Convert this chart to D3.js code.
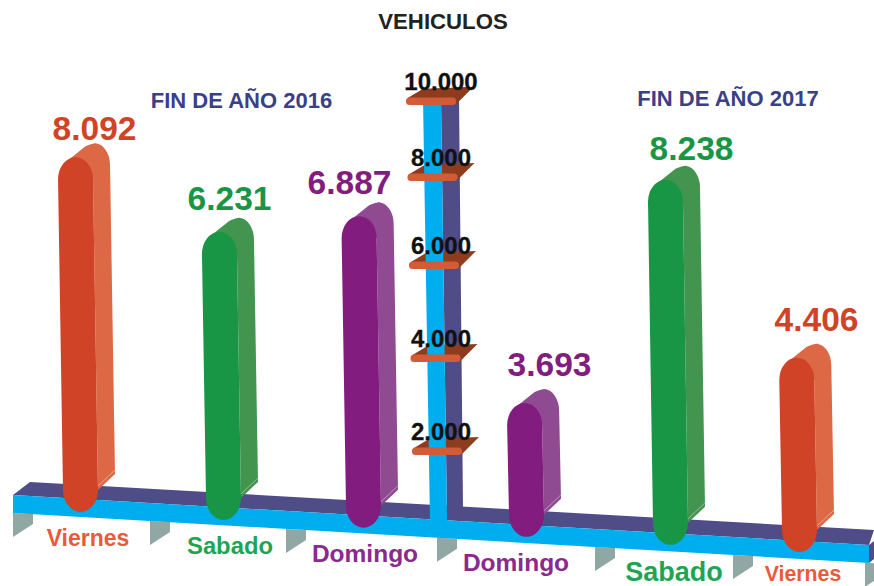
<!DOCTYPE html>
<html>
<head>
<meta charset="utf-8">
<script src="https://cdnjs.cloudflare.com/ajax/libs/d3/7.8.5/d3.min.js"></script>
<style>
  html, body { margin: 0; padding: 0; background: #fff; }
  svg { display: block; }
  text { font-family: "Liberation Sans", Arial, sans-serif; font-weight: bold; }
</style>
</head>
<body>
<div id="chart"></div>
<script>
// Data
var years = ["2016", "2016", "2016", "2017", "2017", "2017"];
var days = ["Viernes", "Sabado", "Domingo", "Domingo", "Sabado", "Viernes"];
var vehicles = [8092, 6231, 6887, 3693, 8238, 4406];
var tickValues = [2000, 4000, 6000, 8000, 10000];
var titles = ["FIN DE AÑO 2016", "FIN DE AÑO 2017"];

var svgWidth = 874;
var svgHeight = 586;

var svg = d3.select("#chart").append("svg")
  .attr("width", svgWidth)
  .attr("height", svgHeight);

// Hand placed columns, so the x scale is ordinal rather than evenly spaced
var keys = days.map((d, i) => years[i] + "-" + d);
var xScale = d3.scaleOrdinal()
  .domain(keys)
  .range([80.5, 223.5, 363.5, 526.5, 670.5, 799.5]);

// the floor beam runs downhill, column feet follow it
var footScale = d3.scaleLinear().domain([80.5, 799.5]).range([512, 552]);
var beamScale = d3.scaleLinear().domain([13, 869]).range([495, 545]);

// the artwork is not drawn to one scale, these follow its proportions
var heightScale = d3.scaleLinear()
  .domain([0, 3700, 4400, 6200, 8100, 8250])
  .range([0, 134, 194, 287, 355, 366]);
var axisScale = d3.scaleLinear()
  .domain(tickValues)
  .range([451, 358, 265, 177, 101]);
var shelfX = d3.scaleLinear().domain([2000, 10000]).range([412, 406]);

var dayColor = d3.scaleOrdinal()
  .domain(["Viernes", "Sabado", "Domingo"])
  .range(["#d04326", "#189646", "#821c7e"]);
var sideColor = d3.scaleOrdinal()
  .domain(["Viernes", "Sabado", "Domingo"])
  .range(["#dc6845", "#43944f", "#8f4a92"]);
var dayTextColor = d3.scaleOrdinal()
  .domain(["Viernes", "Sabado", "Domingo"])
  .range(["#ea5a3a", "#1fa552", "#8a2a8c"]);
var valueFormat = d3.formatLocale({ decimal: ",", thousands: ".", grouping: [3], currency: ["", ""] }).format(",d");

var cyan = "#00aeef";
var navy = "#4f4c87";

// decoration: braces under the beam
var braceX = [13, 150, 286, 437, 595, 733, 865];
svg.append("g").selectAll("path")
  .data(braceX)
  .enter()
  .append("path")
  .attr("fill", "#8fa8a4")
  .attr("d", d => {
    var y0 = beamScale(d) + 18;
    return `M${d},${y0}L${d + 20},${y0 + 1}L${d + 20},${y0 + 11}L${d},${y0 + 24}Z`;
  });

// floor beam
var beam = svg.append("g");
beam.append("path")
  .attr("fill", navy)
  .attr("d", `M13,${beamScale(13)}L30,${beamScale(13) - 13}L874,${beamScale(869) - 15}L869,${beamScale(869)}Z`);
beam.append("path")
  .attr("fill", cyan)
  .attr("d", `M13,${beamScale(13)}L869,${beamScale(869)}L869,${beamScale(869) + 18}L13,${beamScale(13) + 18}Z`);
beam.append("path")
  .attr("fill", navy)
  .attr("d", `M869,${beamScale(869)}L874,${beamScale(869) - 4}L874,${beamScale(869) + 14}L869,${beamScale(869) + 18}Z`);

function shelfTop(d) {
  var x = shelfX(d);
  var y = axisScale(d);
  return `M${x + 2},${y - 3}L${x + 17},${y - 12}L${x + 67},${y - 14}L${x + 50},${y + 3}Z`;
}

// central post, the lower shelves pass behind its cyan face
var post = svg.append("g");
post.append("path").attr("fill", navy).attr("d", "M441,98L459,96L463,507L447,520Z");
post.append("g").selectAll("path")
  .data(tickValues)
  .enter()
  .append("path")
  .attr("fill", "#8e3b1e")
  .attr("d", shelfTop);
post.append("path").attr("fill", cyan).attr("d", "M423,98L441,98L447,520L449,522L430,522Z");
post.append("path").attr("fill", "#8e3b1e").attr("d", shelfTop(10000));
post.append("g").selectAll("rect")
  .data(tickValues)
  .enter()
  .append("rect")
  .attr("x", d => shelfX(d))
  .attr("y", d => axisScale(d) - 3.5)
  .attr("width", 50)
  .attr("height", 7.5)
  .attr("rx", 3.5)
  .attr("fill", "#d25b38");

var yAxis = d3.axisLeft(axisScale)
  .tickValues(tickValues)
  .tickSize(0)
  .tickFormat(valueFormat);
var axisGroup = svg.append("g")
  .attr("transform", "translate(441,-12)")
  .call(yAxis);
axisGroup.select(".domain").remove();
axisGroup.selectAll("text")
  .attr("x", 0)
  .attr("dy", 0)
  .attr("text-anchor", "middle")
  .attr("font-size", "24px")
  .attr("font-family", "Liberation Sans")
  .attr("fill", "#111")
  .attr("stroke", "#111")
  .attr("stroke-width", 0.3);

// columns
var barWidth = 35;
var depthX = 17;
var depthY = 14;
var capY = 22;

var bars = svg.append("g").selectAll("g")
  .data(vehicles)
  .enter()
  .append("g");

function barInfo(d, i) {
  var cx = xScale(keys[i]);
  var foot = footScale(cx);
  var h = heightScale(d);
  return { cx: cx, foot: foot, top: foot - h, lean: -Math.min(5, h * 0.014) };
}

bars.append("path")
  .attr("fill", (d, i) => sideColor(days[i]))
  .attr("d", (d, i) => {
    var b = barInfo(d, i);
    var r = barWidth / 2;
    var tx = b.cx + b.lean;
    return `M${tx - 10},${b.top + 5}L${tx + depthX - 7},${b.top - depthY + 3}`
      + `Q${tx + depthX},${b.top - depthY} ${tx + depthX + 3},${b.top - depthY}`
      + `A${r - 2},${capY} 0 0 1 ${tx + r + depthX},${b.top - depthY + capY}`
      + `L${b.cx + r + depthX},${b.foot - 38}L${b.cx + r},${b.foot - 22}L${tx + r},${b.top + capY}Z`;
  });

bars.append("path")
  .attr("fill", "none")
  .attr("stroke", "#fff")
  .attr("stroke-opacity", 0.4)
  .attr("d", (d, i) => {
    var b = barInfo(d, i);
    var r = barWidth / 2;
    return `M${b.cx + r},${b.foot - 26}L${b.cx + r + depthX},${b.foot - 42}`;
  });

bars.append("path")
  .attr("fill", (d, i) => dayColor(days[i]))
  .attr("d", (d, i) => {
    var b = barInfo(d, i);
    var r = barWidth / 2;
    var tx = b.cx + b.lean;
    return `M${tx - r},${b.top + capY}A${r},${capY} 0 0 1 ${tx + r},${b.top + capY}`
      + `L${b.cx + r},${b.foot - capY}A${r},${capY} 0 0 1 ${b.cx - r},${b.foot - capY}Z`;
  });

// value labels sit a little differently over each column
var valueOffset = [[14, -17], [6, -22], [-14, -22], [23, -27], [21, -20], [17, -27]];
svg.append("g").selectAll("text")
  .data(vehicles)
  .enter()
  .append("text")
  .attr("x", (d, i) => xScale(keys[i]) + valueOffset[i][0])
  .attr("y", (d, i) => barInfo(d, i).top + valueOffset[i][1])
  .attr("text-anchor", "middle")
  .attr("font-size", "33.5px")
  .attr("fill", (d, i) => dayColor(days[i]))
  .text(d => valueFormat(d));

// day names under the beam
var dayDx = [7.5, 6.5, 1.5, -10.5, 3.5, 3.5];
var dayDy = [0, 0, 0, 0, 2, -5];
var daySize = [23, 23.8, 24.5, 24.5, 27, 21.3];
svg.append("g").selectAll("text")
  .data(days)
  .enter()
  .append("text")
  .attr("x", (d, i) => xScale(keys[i]) + dayDx[i])
  .attr("y", (d, i) => footScale(xScale(keys[i])) + 34 + dayDy[i])
  .attr("text-anchor", "middle")
  .attr("font-size", (d, i) => daySize[i] + "px")
  .attr("fill", d => dayTextColor(d))
  .text(d => d);

// titles
svg.append("text")
  .attr("x", 443)
  .attr("y", 29)
  .attr("text-anchor", "middle")
  .attr("font-size", "22.2px")
  .attr("fill", "#222")
  .text("VEHICULOS");

svg.append("g").selectAll("text")
  .data(titles)
  .enter()
  .append("text")
  .attr("x", (d, i) => i === 0 ? 241.5 : 728)
  .attr("y", (d, i) => i === 0 ? 108 : 106)
  .attr("text-anchor", "middle")
  .attr("font-size", "22px")
  .attr("fill", "#3a4088")
  .text(d => d);
</script>
</body>
</html>
